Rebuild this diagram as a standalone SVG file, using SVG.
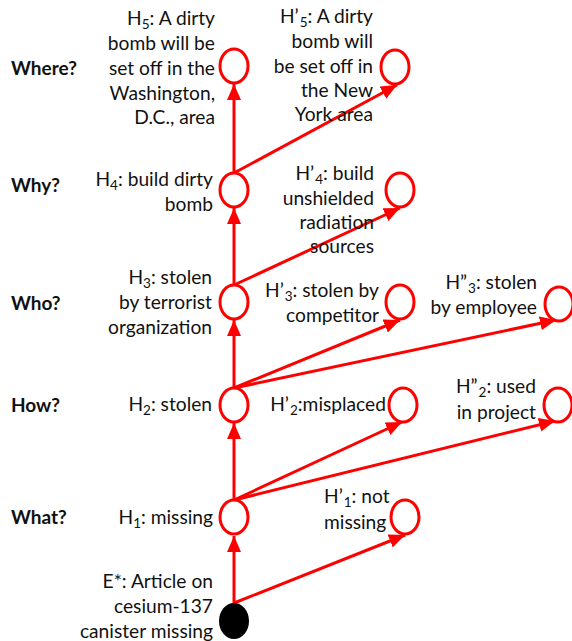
<svg xmlns="http://www.w3.org/2000/svg" width="572" height="641" viewBox="0 0 572 641">
<style>
text{font-family:Lato,"Liberation Sans",sans-serif;font-size:19.2px;fill:#111}
.q{font-weight:bold;font-size:19px}
.e{text-anchor:end}
.n{fill:#fff;stroke:#f00;stroke-width:3}
.c line{stroke:#f00;stroke-width:3;marker-end:url(#ah)}
.s{font-size:13.5px}
</style>
<defs>
<marker id="ah" viewBox="0 0 16 14" refX="16" refY="7" markerWidth="16" markerHeight="14" markerUnits="userSpaceOnUse" orient="auto">
<path d="M0,0 L16,7 L0,14 z" fill="#f00"/>
</marker>
</defs>
<g id="questions">
<text class="q" x="11" y="75">Where?</text>
<text class="q" x="11" y="192">Why?</text>
<text class="q" x="11" y="310">Who?</text>
<text class="q" x="11" y="412">How?</text>
<text class="q" x="11" y="524">What?</text>
</g>
<g class="c" id="connectors">
<line x1="234" y1="603" x2="234" y2="536"/>
<line x1="234" y1="500" x2="234" y2="423"/>
<line x1="234" y1="388" x2="234" y2="320"/>
<line x1="234" y1="285" x2="234" y2="208"/>
<line x1="234" y1="173" x2="234" y2="84"/>
<line x1="234" y1="603" x2="405" y2="535"/>
<line x1="234" y1="500" x2="402" y2="422"/>
<line x1="234" y1="500" x2="555" y2="421"/>
<line x1="234" y1="388" x2="400" y2="320"/>
<line x1="234" y1="388" x2="556" y2="320"/>
<line x1="234" y1="285" x2="400" y2="208"/>
<line x1="234" y1="173" x2="397" y2="85"/>
</g>
<g id="E">
<ellipse cx="234" cy="621" rx="15" ry="18" fill="#000"/>
<text class="e" x="213" y="588">E*: Article on</text>
<text class="e" x="213" y="613">cesium-137</text>
<text class="e" x="213" y="638">canister missing</text>
</g>
<g id="H1">
<ellipse class="n" cx="234" cy="517" rx="14" ry="17"/>
<text class="e" x="213" y="524">H<tspan class="s" dy="4">1</tspan><tspan dy="-4">: missing</tspan></text>
</g>
<g id="H1p">
<ellipse class="n" cx="405" cy="517" rx="14" ry="17"/>
<text x="324" y="503">H’<tspan class="s" dx="1" dy="3.5">1</tspan><tspan dy="-3.5">: not</tspan></text>
<text x="324" y="529">missing</text>
</g>
<g id="H2">
<ellipse class="n" cx="234" cy="405" rx="14" ry="17"/>
<text class="e" x="212" y="411">H<tspan class="s" dy="4">2</tspan><tspan dy="-4">: stolen</tspan></text>
</g>
<g id="H2p">
<ellipse class="n" cx="403" cy="405" rx="14" ry="17"/>
<text class="e" x="386" y="411">H’<tspan class="s" dx="1" dy="4">2</tspan><tspan dy="-4">:misplaced</tspan></text>
</g>
<g id="H2pp">
<ellipse class="n" cx="558" cy="405" rx="14" ry="17"/>
<text class="e" x="536" y="393">H”<tspan class="s" dx="1" dy="3.5">2</tspan><tspan dy="-3.5">: used</tspan></text>
<text class="e" x="536" y="419">in project</text>
</g>
<g id="H3">
<ellipse class="n" cx="234" cy="302" rx="14" ry="17"/>
<text class="e" x="212" y="284">H<tspan class="s" dy="4">3</tspan><tspan dy="-4">: stolen</tspan></text>
<text class="e" x="212" y="309">by terrorist</text>
<text class="e" x="212" y="334">organization</text>
</g>
<g id="H3p">
<ellipse class="n" cx="400" cy="302" rx="14" ry="17"/>
<text class="e" x="379" y="297">H’<tspan class="s" dx="1" dy="3.5">3</tspan><tspan dy="-3.5">: stolen by</tspan></text>
<text class="e" x="379" y="322">competitor</text>
</g>
<g id="H3pp">
<ellipse class="n" cx="559" cy="304" rx="14" ry="17"/>
<text class="e" x="537" y="289">H”<tspan class="s" dx="1" dy="3.5">3</tspan><tspan dy="-3.5">: stolen</tspan></text>
<text class="e" x="537" y="314">by employee</text>
</g>
<g id="H4">
<ellipse class="n" cx="234" cy="190" rx="14" ry="17"/>
<text class="e" x="213" y="186">H<tspan class="s" dy="4">4</tspan><tspan dy="-4">: build dirty</tspan></text>
<text class="e" x="213" y="211">bomb</text>
</g>
<g id="H4p">
<ellipse class="n" cx="400" cy="190" rx="14" ry="17"/>
<text class="e" x="374" y="180">H’<tspan class="s" dx="1" dy="3.5">4</tspan><tspan dy="-3.5">: build</tspan></text>
<text class="e" x="374" y="205">unshielded</text>
<text class="e" x="374" y="229">radiation</text>
<text class="e" x="374" y="253">sources</text>
</g>
<g id="H5">
<ellipse class="n" cx="234" cy="66" rx="14" ry="17"/>
<text class="e" x="215" y="25">H<tspan class="s" dy="4">5</tspan><tspan dy="-4">: A dirty</tspan></text>
<text class="e" x="215" y="50">bomb will be</text>
<text class="e" x="215" y="75">set off in  the</text>
<text class="e" x="215" y="100">Washington,</text>
<text class="e" x="215" y="124">D.C., area</text>
</g>
<g id="H5p">
<ellipse class="n" cx="395" cy="67" rx="14" ry="17"/>
<text class="e" x="373" y="23">H’<tspan class="s" dx="1" dy="3.5">5</tspan><tspan dy="-3.5">: A dirty</tspan></text>
<text class="e" x="373" y="48">bomb will</text>
<text class="e" x="373" y="73">be set off in</text>
<text class="e" x="373" y="97">the New</text>
<text class="e" x="373" y="121">York area</text>
</g>
</svg>
